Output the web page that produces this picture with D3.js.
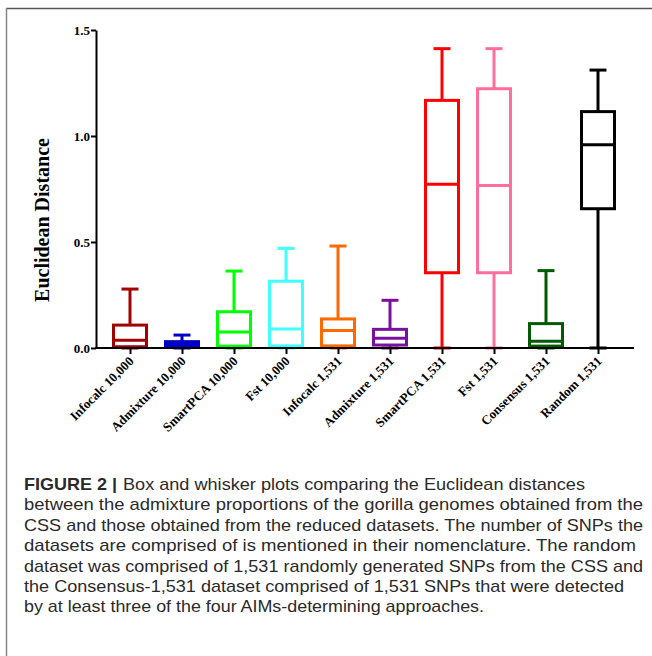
<!DOCTYPE html>
<html>
<head>
<meta charset="utf-8">
<script src="https://cdn.jsdelivr.net/npm/d3@7"></script>
<style>
  html, body { margin: 0; padding: 0; background: #fff; }
  svg { display: block; }
</style>
</head>
<body>
<svg id="chart" width="652" height="656"></svg>
<script>
// ---- Data ----
const categories = ["Infocalc 10,000", "Admixture 10,000", "SmartPCA 10,000", "Fst 10,000",
  "Infocalc 1,531", "Admixture 1,531", "SmartPCA 1,531", "Fst 1,531", "Consensus 1,531", "Random 1,531"];
const mins    = [0.000, 0.000, 0.000, 0.000, 0.000, 0.000, 0.000, 0.000, 0.000, 0.000];
const q1s     = [0.006, 0.005, 0.009, 0.010, 0.010, 0.014, 0.355, 0.355, 0.009, 0.657];
const medians = [0.036, 0.016, 0.075, 0.090, 0.082, 0.046, 0.772, 0.767, 0.032, 0.959];
const q3s     = [0.108, 0.030, 0.171, 0.315, 0.137, 0.088, 1.168, 1.223, 0.115, 1.115];
const maxs    = [0.278, 0.061, 0.363, 0.470, 0.481, 0.225, 1.412, 1.412, 0.365, 1.311];
const yTicks  = [0, 0.5, 1.0, 1.5];
const colors  = ["#a30000", "#0000c8", "#00ff00", "#40ffff", "#ff6a00", "#7a109e",
  "#ff0000", "#ff6e9c", "#005a00", "#000000"];
const yTitle = "Euclidean Distance";
const captionBold = "FIGURE 2 |";
const captionLines = [
  "Box and whisker plots comparing the Euclidean distances",
  "between the admixture proportions of the gorilla genomes obtained from the",
  "CSS and those obtained from the reduced datasets. The number of SNPs the",
  "datasets are comprised of is mentioned in their nomenclature. The random",
  "dataset was comprised of 1,531 randomly generated SNPs from the CSS and",
  "the Consensus-1,531 dataset comprised of 1,531 SNPs that were detected",
  "by at least three of the four AIMs-determining approaches."
];
// layout: right end of each caption line (px)
const captionEnds = [585, 643, 643, 636, 643, 624, 484];

const data = categories.map((c, i) => ({
  cat: c, min: mins[i], q1: q1s[i], med: medians[i], q3: q3s[i], max: maxs[i], color: colors[i]
}));

const svg = d3.select("#chart");

// frame
svg.append("line").attr("x1", 6.5).attr("x2", 652).attr("y1", 8.5).attr("y2", 8.5)
  .attr("stroke", "#555").attr("stroke-width", 1.5);
svg.append("line").attr("x1", 6.5).attr("x2", 6.5).attr("y1", 8).attr("y2", 656)
  .attr("stroke", "#888").attr("stroke-width", 1.5);

const axisX = 96, axisY = 348, axisRight = 634;
const y = d3.scaleLinear().domain([0, 1.5]).range([348, 30]);
const x = d3.scalePoint().domain(categories).range([130, 598]);
const boxW = 33, capW = 17;

const g = svg.append("g");

// boxes
const bx = g.selectAll("g.box").data(data).join("g").attr("class", "box")
  .attr("stroke", d => d.color).attr("stroke-width", 3).attr("fill", "none");
bx.append("line").attr("x1", d => x(d.cat)).attr("x2", d => x(d.cat))
  .attr("y1", d => y(d.max)).attr("y2", d => y(d.q3));
bx.append("line").attr("x1", d => x(d.cat)).attr("x2", d => x(d.cat))
  .attr("y1", d => y(d.q1)).attr("y2", d => y(d.min));
bx.append("line").attr("x1", d => x(d.cat) - capW / 2).attr("x2", d => x(d.cat) + capW / 2)
  .attr("y1", d => y(d.max)).attr("y2", d => y(d.max));
bx.append("line").attr("x1", d => x(d.cat) - capW / 2).attr("x2", d => x(d.cat) + capW / 2)
  .attr("y1", d => y(d.min)).attr("y2", d => y(d.min));
bx.append("rect").attr("x", d => x(d.cat) - boxW / 2).attr("width", boxW)
  .attr("y", d => y(d.q3)).attr("height", d => y(d.q1) - y(d.q3));
bx.append("line").attr("x1", d => x(d.cat) - boxW / 2).attr("x2", d => x(d.cat) + boxW / 2)
  .attr("y1", d => y(d.med)).attr("y2", d => y(d.med));

// y axis
const yAxis = g.append("g").attr("transform", `translate(${axisX},0)`)
  .call(d3.axisLeft(y).tickValues(yTicks).tickFormat(d3.format(".1f")).tickSize(5).tickSizeOuter(0));
yAxis.select(".domain").attr("stroke", "#000").attr("stroke-width", 2);
yAxis.selectAll(".tick line").attr("stroke", "#000").attr("stroke-width", 2);
yAxis.selectAll(".tick text").attr("font-family", "'Liberation Serif', 'Times New Roman', serif")
  .attr("font-weight", "bold").attr("font-size", 13).attr("fill", "#000").attr("x", -6);

// x axis
const xAxis = g.append("g").attr("transform", `translate(0,${axisY})`)
  .call(d3.axisBottom(x).tickSize(6).tickSizeOuter(0));
xAxis.select(".domain").remove();
xAxis.selectAll(".tick line").attr("stroke", "#000").attr("stroke-width", 2);
xAxis.selectAll(".tick text")
  .attr("font-family", "'Liberation Serif', 'Times New Roman', serif")
  .attr("font-weight", "bold").attr("font-size", 13).attr("fill", "#000")
  .attr("text-anchor", "end").attr("dy", null).attr("y", 0)
  .attr("transform", "translate(4,14) rotate(-45)");
g.append("line").attr("x1", axisX - 1).attr("x2", axisRight).attr("y1", axisY).attr("y2", axisY)
  .attr("stroke", "#000").attr("stroke-width", 2);

// y title
svg.append("text").attr("transform", "translate(49,220) rotate(-90)")
  .attr("text-anchor", "middle")
  .attr("font-family", "'Liberation Serif', 'Times New Roman', serif")
  .attr("font-weight", "bold").attr("font-size", 20).attr("fill", "#000")
  .text(yTitle);

// caption
const cap = svg.append("g").attr("font-family", "'Liberation Sans', Arial, sans-serif")
  .attr("font-size", 17).attr("fill", "#2a2a2a");
const capX = 24, boldEnd = 117, restStart = 123;
captionLines.forEach((line, i) => {
  const yy = 490 + i * 20.4;
  if (i === 0) {
    cap.append("text").attr("x", capX).attr("y", yy).attr("font-weight", "bold")
      .attr("textLength", boldEnd - capX).attr("lengthAdjust", "spacingAndGlyphs")
      .text(captionBold);
  }
  const sx = i === 0 ? restStart : capX;
  cap.append("text").attr("x", sx).attr("y", yy)
    .attr("textLength", captionEnds[i] - sx).attr("lengthAdjust", "spacingAndGlyphs")
    .text(line);
});
</script>
</body>
</html>
